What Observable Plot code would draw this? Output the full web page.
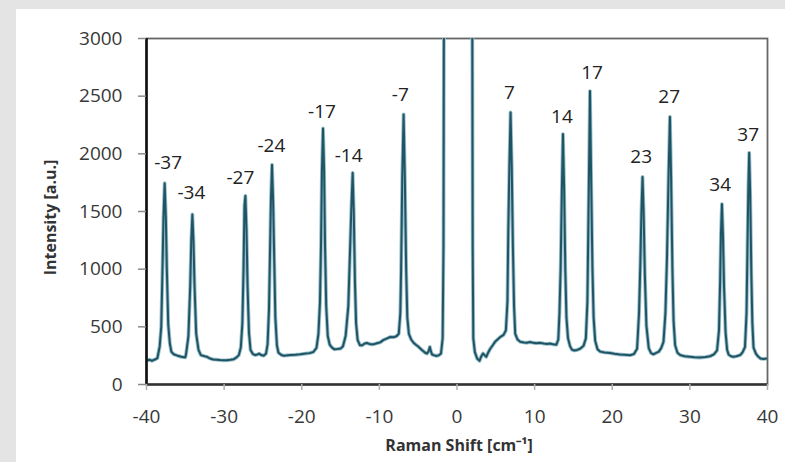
<!DOCTYPE html>
<html>
<head>
<meta charset="utf-8">
<script src="https://cdn.jsdelivr.net/npm/d3@7"></script>
<script src="https://cdn.jsdelivr.net/npm/@observablehq/plot@0.6"></script>
<style>
  html, body { margin: 0; padding: 0; width: 785px; height: 462px; overflow: hidden; background: #e4e4e4; }
  #panel { position: absolute; left: 16px; top: 9px; right: 0; bottom: 0; background: #ffffff; }
  #chart { position: absolute; left: 0; top: 0; }
  #chart g[aria-label="y-axis tick"] path { stroke: #8a8a8a; stroke-width: 1.5; }
  #chart g[aria-label="x-axis tick"] path { stroke: #b0b0b0; stroke-width: 1.5; }
</style>
</head>
<body>
<div id="panel"></div>
<div id="chart"></div>
<script>
// Raman spectrum (shift in cm^-1, intensity in a.u.)
const ramanShift = [
  -40.0, -39.8, -39.6, -39.3, -39.0, -38.8, -38.6, -38.3, -38.1, -37.94, -37.81, -37.66, -37.51, -37.38, -37.2, -37.0, -36.8,
  -36.5, -36.0, -35.5, -35.0,
  -34.9, -34.6, -34.37, -34.23, -34.09, -33.95, -33.81, -33.6, -33.3, -33.0,
  -32.5, -32.2, -31.8, -31.4, -31.0, -30.5, -30.0, -29.6, -29.2, -28.8, -28.4, -28.1,
  -27.85, -27.65, -27.5, -27.38, -27.26, -27.12, -26.98, -26.8, -26.6, -26.3, -26.0, -25.7, -25.5, -25.2, -24.9, -24.6, -24.4,
  -24.22, -24.1, -23.97, -23.83, -23.69, -23.55, -23.4, -23.2, -23.0, -22.6, -22.3, -21.5, -20.8, -20.2, -19.5, -19.0, -18.5, -18.1, -17.85,
  -17.65, -17.52, -17.4, -17.26, -17.12, -17.0, -16.85, -16.65, -16.4, -16.1, -15.8, -15.4, -15.0, -14.7, -14.35,
  -14.0, -13.83, -13.6, -13.44, -13.3, -13.15, -13.0, -12.8, -12.5, -12.2, -11.9, -11.6, -11.3, -11.0, -10.7, -10.3, -9.9, -9.5, -9.0, -8.6, -8.2, -7.8, -7.5, -7.3,
  -7.2, -7.05, -6.88, -6.72, -6.55, -6.4, -6.2, -5.9, -5.6, -5.3, -5.0, -4.7, -4.4, -4.1, -3.86, -3.65, -3.5, -3.35, -3.2, -2.9, -2.6, -2.3, -2.06,
  -1.85, -1.74, -1.68, -1.4, 0.0, 1.6, 1.96, 2.02, 2.1,
  2.3, 2.6, 2.9, 3.1, 3.35, 3.55, 3.77, 4.0, 4.3, 4.6, 4.9, 5.3, 5.6, 6.0, 6.3, 6.5,
  6.6, 6.75, 6.90, 7.05, 7.2, 7.35, 7.5, 7.8, 8.15, 8.6, 9.0, 9.4, 9.8, 10.2, 10.7, 11.2, 11.6, 12.0, 12.4, 12.8, 13.05, 13.2,
  13.35, 13.5, 13.65, 13.8, 13.95, 14.1, 14.3, 14.55, 14.8, 15.1, 15.5, 15.9, 16.3, 16.6, 16.8,
  16.98, 17.13, 17.28, 17.45, 17.6, 17.8, 18.1, 18.45, 19.0, 19.7, 20.3, 21.0, 21.6, 22.3, 22.8, 23.2, 23.45,
  23.62, 23.76, 23.90, 24.04, 24.2, 24.4, 24.7, 25.0, 25.3, 25.6, 26.0, 26.3, 26.6, 26.85,
  27.05, 27.25, 27.43, 27.58, 27.75, 27.9, 28.1, 28.4, 28.75, 29.3, 30.0, 30.6, 31.3, 32.0, 32.6, 33.1, 33.5, 33.75,
  33.9, 34.0, 34.13, 34.26, 34.4, 34.6, 34.8, 35.0, 35.3, 35.6, 36.0, 36.5, 36.8, 37.1, 37.3,
  37.42, 37.53, 37.64, 37.77, 37.92, 38.05, 38.2, 38.5, 38.8, 39.1, 39.5, 40.0
];
const intensity = [
  217, 210, 215, 205, 215, 220, 228, 330, 500, 1000, 1450, 1745, 1450, 1000, 520, 360, 285,
  262, 250, 240, 235,
  265, 420, 850, 1250, 1474, 1250, 850, 440, 300, 255,
  245, 240, 225, 217, 215, 212, 210, 211, 214, 218, 235, 255,
  320, 530, 1000, 1550, 1636, 1350, 850, 450, 300, 265, 255, 260, 268, 255, 250, 268, 350,
  650, 1100, 1600, 1905, 1600, 1100, 580, 340, 275, 255, 250, 255, 258, 262, 268, 272, 282, 318, 440,
  720, 1200, 1850, 2220, 1850, 1200, 680, 420, 345, 320, 305, 308, 312, 330, 420,
  680, 1050, 1550, 1835, 1500, 900, 530, 385, 340, 340, 355, 360, 352, 348, 350, 358, 365, 385, 400, 412, 410, 418, 440, 620,
  1000, 1800, 2342, 1800, 1000, 580, 440, 390, 362, 345, 330, 310, 292, 275, 268, 290, 326, 285, 260, 252, 248, 255, 269,
  400, 1200, 3500, 8000, 20000, 8000, 3500, 1200, 400,
  280, 225, 205, 240, 269, 255, 240, 275, 312, 340, 370, 395, 413, 430, 470, 720,
  1300, 1900, 2359, 1900, 1200, 680, 440, 390, 370, 365, 362, 368, 362, 358, 361, 355, 352, 355, 348, 345, 390, 620,
  1000, 1650, 2171, 1700, 1000, 580, 400, 335, 302, 295, 300, 312, 335, 400, 720,
  1700, 2544, 1800, 1000, 580, 380, 305, 285, 278, 274, 266, 260, 257, 254, 264, 310, 620,
  1050, 1500, 1800, 1500, 950, 510, 315, 272, 262, 272, 285, 315, 370, 620,
  1100, 1800, 2321, 1800, 1000, 550, 340, 275, 255, 245, 240, 236, 234, 238, 245, 262, 295, 470,
  900, 1300, 1564, 1300, 850, 450, 300, 258, 245, 240, 245, 256, 280, 325, 620,
  1200, 1700, 2009, 1650, 950, 530, 320, 268, 242, 225, 222, 225
];

// Peak annotations (text and where the text sits)
const peakLabels = ["-37", "-34", "-27", "-24", "-17", "-14", "-7", "7", "14", "17", "23", "27", "34", "37"];
const labelX = [-37.22, -34.22, -27.91, -23.92, -17.39, -13.96, -7.30, 6.74, 13.52, 17.39, 23.73, 27.34, 33.91, 37.51];
const labelY = [1919, 1659, 1792, 2069, 2362, 1983, 2509, 2527, 2318, 2700, 1971, 2492, 1732, 2163];

const xTicks = [-40, -30, -20, -10, 0, 10, 20, 30, 40];
const yTicks = [0, 500, 1000, 1500, 2000, 2500, 3000];

const spectrum = ramanShift.map((x, i) => ({x, y: intensity[i]}));
const peaks = peakLabels.map((t, i) => ({t, x: labelX[i], y: labelY[i]}));

const chart = Plot.plot({
  width: 785,
  height: 462,
  marginLeft: 146,
  marginRight: 18,
  marginTop: 38,
  marginBottom: 78,
  style: {fontFamily: "'Open Sans', sans-serif", fontSize: "19px", color: "#383838", background: "transparent", overflow: "visible"},
  x: {domain: [-40, 40]},
  y: {domain: [0, 3000]},
  marks: [
    Plot.frame({stroke: "#666", strokeWidth: 1.8}),
    Plot.line(spectrum, {x: "x", y: "y", stroke: "#9cc0cb", strokeWidth: 3.8, clip: true, curve: "linear"}),
    Plot.line(spectrum, {x: "x", y: "y", stroke: "#1f5465", strokeWidth: 2.0, clip: true, curve: "linear"}),
    Plot.ruleX([-40], {stroke: "#111", strokeWidth: 2.6}),
    Plot.ruleY([0], {stroke: "#333", strokeWidth: 2.3}),
    Plot.axisY({ticks: yTicks, tickFormat: d => String(d), tickSize: 8, tickPadding: 16, label: null, fontSize: 19}),
    Plot.axisX({ticks: xTicks, tickFormat: d => String(d), tickSize: 6, tickPadding: 19, label: null, fontSize: 19}),
    Plot.text(peaks, {x: "x", y: "y", text: "t", fontSize: 19, fill: "#222", lineAnchor: "middle", textAnchor: "middle"}),
    Plot.text(["Intensity [a.u.]"], {frameAnchor: "left", dx: -96, dy: 6, rotate: -90, fontWeight: "bold", fontSize: 16, fill: "#333", lineAnchor: "middle", textAnchor: "middle"}),
    Plot.text(["Raman Shift [cm⁻¹]"], {frameAnchor: "bottom", dx: 2, dy: 61, fontWeight: "bold", fontSize: 16, fill: "#333", lineAnchor: "middle", textAnchor: "middle"})
  ]
});
document.getElementById("chart").appendChild(chart);
</script>
</body>
</html>
